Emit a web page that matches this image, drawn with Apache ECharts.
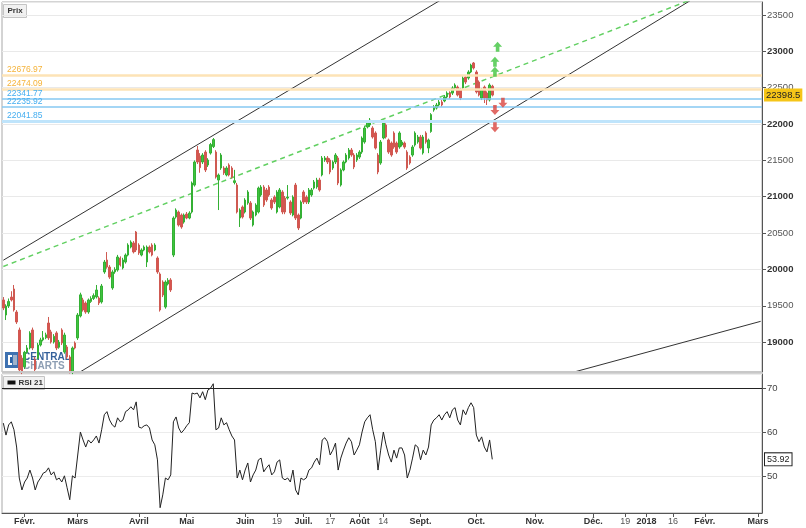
<!DOCTYPE html>
<html>
<head>
<meta charset="utf-8">
<script src="https://cdn.jsdelivr.net/npm/echarts@6/dist/echarts.min.js"></script>
<style>
html,body{margin:0;padding:0;background:#fff;}
#chart{width:806px;height:528px;}
</style>
</head>
<body>
<div id="chart"></div>
<script>
// ---------- DATA ----------
const startDate = '2017-01-20';
const endDate = '2018-03-02';
const holidays = ['2017-04-14','2017-04-17','2017-05-01','2017-12-25','2018-01-01'];

const opens = [19580,19373,19497,19620,19731,19414,19167,18780,18660,18860,
18920,19167,18760,18782,18960,19030,19060,19263,19140,19002,
19126,18930,19167,18864,18933,18795,18590,18988,19057,19360,
19580,19538,19414,19560,19600,19621,19607,19552,19965,20130,
20033,19745,19965,19992,20157,20020,20102,20198,20308,20364,
20515,20336,20198,20267,20102,20308,20336,20267,20157,19937,
19827,19483,19800,19855,20198,20721,20790,20749,20652,20762,
20707,20790,21161,21643,21560,21478,21615,21437,21601,21690,
21615,21230,21395,21395,21299,21437,21395,21196,21161,20707,
20859,20790,20914,20914,20611,20749,20790,21024,21134,21093,
21134,20955,20996,20790,20859,21065,20982,20982,20927,20749,
21161,20749,20707,21065,20996,20927,21024,21120,21134,21230,
21299,21505,21533,21505,21395,21478,21533,21161,21368,21478,
21533,21643,21574,21505,21546,21615,21753,21959,21987,21945,
21877,21574,21464,21808,21987,21781,21739,21877,21739,21684,
21712,21739,21615,21546,21574,21712,21753,21822,21602,21877,
21670,21897,22193,22220,22262,22303,22317,22372,22427,22427,
22496,22509,22468,22496,22647,22633,22716,22840,22716,22578,
22358,22509,22427,22331,22520];

const closes = [19470,19497,19560,19580,19442,19277,18617,18600,18860,18920,
19125,18919,18620,18960,19030,19060,19100,19057,19002,19080,
18919,19000,18988,19098,18795,18600,18919,18919,19373,19650,
19442,19414,19580,19600,19640,19717,19538,19772,20102,20033,
19895,19965,20000,20171,20061,20130,20198,20336,20377,20240,
20267,20226,20267,20308,20308,20240,20198,20336,19965,19442,
19648,19827,19850,19717,20707,20817,20611,20584,20749,20707,
20776,21189,21478,21478,21400,21574,21368,21505,21718,21786,
21271,21299,21574,21326,21395,21299,21271,21220,20790,20817,
20721,20955,21065,20707,20790,20886,21120,21134,20886,20955,
21024,20845,20927,21065,21093,20790,20790,20996,20776,20996,
20707,20570,20927,20927,20927,21093,21093,21203,21230,21093,
21533,21533,21478,21340,21478,21574,21189,21368,21478,21574,
21643,21574,21409,21574,21615,21808,21945,22028,22055,21822,
21670,21340,21753,22014,21822,21615,21574,21684,21615,21877,
21753,21684,21395,21464,21684,21877,21822,21670,21822,21753,
21781,22130,22234,22262,22303,22262,22372,22427,22372,22496,
22537,22399,22358,22633,22578,22716,22812,22771,22441,22399,
22468,22358,22331,22537,22398.5];

const lows = [19440,19304,19470,19560,19420,19250,18590,18560,18630,18840,
18900,18890,18590,18760,18940,19010,19040,19030,18980,18980,
18890,18910,18960,18840,18770,18570,18560,18900,19030,19340,
19420,19390,19390,19540,19580,19600,19510,19530,19940,20010,
19870,19720,19940,19970,20040,20000,20080,20180,20290,20220,
20240,20200,20180,20250,20033,20220,20180,20250,19940,19420,
19620,19460,19780,19690,20170,20700,20590,20560,20630,20690,
20690,20770,21140,21450,21330,21450,21340,21410,21580,21670,
21250,20817,21370,21300,21280,21280,21250,21170,20770,20584,
20700,20770,20890,20680,20590,20730,20770,21000,20860,20930,
21000,20820,20900,20770,20840,20760,20760,20960,20750,20730,
20680,20542,20690,20900,20900,20900,21000,21100,21110,21070,
21280,21480,21450,21310,21370,21450,21160,21140,21350,21460,
21510,21550,21380,21480,21520,21590,21730,21940,21960,21800,
21650,21310,21440,21790,21800,21590,21550,21660,21590,21660,
21690,21660,21370,21440,21550,21690,21730,21650,21580,21730,
21600,21880,22170,22200,22240,22240,22300,22350,22350,22400,
22470,22380,22330,22470,22550,22610,22700,22750,22420,22380,
22330,22289,22262,22310,22380];

const highs = [19620,19520,19600,19700,19786,19440,19200,18820,18880,18960,
19150,19200,18800,18990,19060,19153,19130,19346,19170,19110,
19150,19030,19190,19130,18960,18820,18940,19010,19400,19680,
19610,19560,19600,19630,19670,19786,19630,19800,20130,20239,
20060,19990,20030,20200,20180,20160,20220,20360,20400,20390,
20529,20360,20290,20330,20330,20330,20360,20360,20180,19960,
19850,19850,19880,19880,20730,20840,20810,20770,20770,20790,
20800,21210,21500,21698,21600,21600,21640,21530,21740,21808,
21640,21320,21600,21420,21420,21460,21420,21370,21190,20840,
20880,20980,21090,20940,20810,20910,21140,21160,21160,21120,
21160,20980,21020,21090,21120,21090,21010,21161,20950,21020,
21190,20770,20950,21090,21020,21120,21120,21230,21260,21260,
21560,21560,21560,21530,21500,21600,21560,21390,21500,21600,
21670,21670,21600,21600,21640,21830,21970,22050,22083,21970,
21900,21600,21780,22040,22010,21800,21760,21900,21760,21900,
21780,21760,21640,21570,21710,21900,21850,21850,21850,21900,
21800,22150,22260,22290,22330,22330,22400,22450,22450,22520,
22560,22530,22490,22660,22670,22740,22830,22853,22740,22600,
22490,22530,22450,22560,22540];

const rsi = [62.1,59.4,61.7,62.4,60.6,56.7,49.7,47.0,48.8,49.7,
51.5,49.7,47.0,48.8,49.7,50.8,51.1,52.0,50.4,51.1,
49.3,49.7,48.8,50.2,47.5,44.8,50.2,49.7,54.9,60.1,
58.3,56.7,58.3,57.6,58.3,59.2,57.6,60.6,64.0,64.7,
62.8,61.7,61.2,63.3,62.4,62.8,64.7,65.1,65.8,65.1,
66.9,61.2,61.0,61.5,61.7,61.0,58.3,57.2,53.8,43.0,
45.9,49.7,49.3,50.4,62.4,63.5,61.0,59.9,60.6,61.5,
62.2,68.9,68.7,68.9,67.8,69.2,67.4,69.6,70.0,71.0,
60.6,61.0,63.3,61.7,62.2,60.6,59.2,58.3,49.7,51.5,
49.3,51.5,53.1,48.8,50.4,51.5,53.8,54.2,51.1,52.0,
52.7,50.4,51.1,53.3,53.8,49.7,49.3,49.7,48.8,51.5,
47.0,45.9,49.7,49.3,49.7,51.5,52.0,53.3,54.2,52.7,
58.3,58.8,57.9,54.9,56.0,57.6,51.5,54.2,56.0,57.6,
58.8,57.9,54.9,56.0,57.2,60.1,62.4,63.3,64.0,60.6,
57.9,51.5,56.0,60.1,57.2,54.9,53.3,56.0,54.2,56.5,
56.5,54.9,49.7,51.5,54.2,57.2,56.7,53.8,56.0,54.9,
56.7,61.7,62.8,63.3,64.0,62.8,64.0,64.7,63.3,65.1,
65.6,62.8,61.7,65.1,64.0,65.6,66.7,65.6,59.4,57.9,
59.0,56.7,55.6,58.3,53.92];

// horizontal levels [value, kind]
const levelValues = [22676.97, 22474.09, 22341.77, 22235.92, 22041.85];
const levelKinds  = ['res', 'res', 'sup', 'sup', 'supStrong'];

// trend lines: [date1, price1, date2, price2]
const upperChannel = ['2017-01-20', 20127, '2017-09-20', 23824];
const lowerChannel = ['2017-02-17', 18392, '2018-02-09', 23954];
const midDashed    = ['2017-01-20', 20041, '2018-03-02', 24082];
const lowerRight   = ['2017-11-01', 18442, '2018-03-02', 19286];

// signal arrows [date, price]
const upArrows   = [['2017-10-12', 23064], ['2017-10-11', 22857], ['2017-10-11', 22720]];
const downArrows = [['2017-10-16', 22293], ['2017-10-11', 22193], ['2017-10-11', 21955]];

const rsiLevel = 70;
const priceMin = 18589, priceMax = 23679;
const rsiMin = 41.8, rsiMax = 73.2;

const tickLabels = [
  ['2017-02-01','Févr.'],['2017-03-01','Mars'],['2017-04-03','Avril'],['2017-05-02','Mai'],
  ['2017-06-01','Juin'],['2017-06-19','19'],['2017-07-03','Juil.'],['2017-07-17','17'],
  ['2017-08-01','Août'],['2017-08-14','14'],['2017-09-01','Sept.'],['2017-10-02','Oct.'],
  ['2017-11-01','Nov.'],['2017-12-01','Déc.'],['2017-12-19','19'],['2018-01-02','2018'],
  ['2018-01-16','16'],['2018-02-01','Févr.'],['2018-03-01','Mars']
];

// ---------- BUILD ----------
function buildTradingDays(start, end, hol) {
  const out = [];
  let d = new Date(start + 'T00:00:00Z');
  const e = new Date(end + 'T00:00:00Z');
  while (d <= e) {
    const wd = d.getUTCDay();
    const s = d.toISOString().slice(0, 10);
    if (wd !== 0 && wd !== 6 && hol.indexOf(s) < 0) out.push(s);
    d = new Date(d.getTime() + 86400000);
  }
  return out;
}
const categories = buildTradingDays(startDate, endDate, holidays);
const idx = d => categories.indexOf(d);
const tickMap = {};
tickLabels.forEach(t => { tickMap[t[0]] = t[1]; });

const candleData = opens.map((o, i) => [o, closes[i], lows[i], highs[i]]);
const lastClose = closes[closes.length - 1];
const lastRsi = rsi[rsi.length - 1];

const levelStyle = {
  res:       { line: '#fde3b6', width: 2.5, text: '#f5b33a' },
  sup:       { line: '#86c9f2', width: 1.5, text: '#45aef0' },
  supStrong: { line: '#bfe4fb', width: 3, text: '#45aef0' }
};

function trend(tl, color, type, width) {
  return {
    type: 'line', xAxisIndex: 0, yAxisIndex: 0, silent: true, symbol: 'none',
    clip: true, z: 3,
    data: [[idx(tl[0]), tl[1]], [idx(tl[2]), tl[3]]],
    lineStyle: { color: color, width: width, type: type }
  };
}

const FONT = '"Liberation Sans", Arial, sans-serif';
const upPath = 'path://M5,0 L10,5 L7,5 L7,10 L3,10 L3,5 L0,5 Z';
const downPath = 'path://M3,0 L7,0 L7,5 L10,5 L5,10 L0,5 L3,5 Z';

const chart = echarts.init(document.getElementById('chart'), null, { renderer: 'canvas' });

const option = {
  animation: false,
  backgroundColor: '#fff',
  textStyle: { fontFamily: FONT },
  grid: [
    { left: 2, right: 44, top: 2, height: 370, show: true, borderColor: '#a8a8a8', borderWidth: 1 },
    { left: 2, right: 44, top: 374, height: 139, show: true, borderColor: '#a8a8a8', borderWidth: 1 }
  ],
  xAxis: [
    { type: 'category', gridIndex: 0, data: categories, boundaryGap: true,
      axisLine: { show: false }, axisTick: { show: false }, axisLabel: { show: false }, splitLine: { show: false } },
    { type: 'category', gridIndex: 1, data: categories, boundaryGap: true,
      axisLine: { show: true, lineStyle: { color: '#555' } },
      axisTick: { show: true, alignWithLabel: true, length: 4, lineStyle: { color: '#555' },
        interval: (i, v) => tickMap[v] !== undefined },
      axisLabel: { show: true, margin: 4,
        interval: (i, v) => tickMap[v] !== undefined,
        formatter: v => { const t = tickMap[v] || ''; return /^\d{1,2}$/.test(t) ? '{n|' + t + '}' : '{b|' + t + '}'; },
        rich: { b: { fontWeight: 'bold', fontSize: 9, color: '#333', fontFamily: FONT },
                n: { fontSize: 9, color: '#555', fontFamily: FONT } } },
      splitLine: { show: false } }
  ],
  yAxis: [
    { type: 'value', gridIndex: 0, position: 'right', min: priceMin, max: priceMax, splitNumber: 10, scale: true,
      axisLine: { show: true, lineStyle: { color: '#555' } },
      axisTick: { show: true, length: 4, lineStyle: { color: '#555' } },
      axisLabel: { margin: 5, showMinLabel: false, showMaxLabel: false,
        formatter: v => (v % 1000 === 0 ? '{b|' + v + '}' : '{n|' + v + '}'),
        rich: { b: { fontWeight: 'bold', fontSize: 9.5, color: '#333', fontFamily: FONT },
                n: { fontSize: 9.5, color: '#555', fontFamily: FONT } } },
      splitLine: { show: true, lineStyle: { color: '#e9e9e9' } } },
    { type: 'value', gridIndex: 1, position: 'right', min: rsiMin, max: rsiMax, splitNumber: 3, scale: true,
      axisLine: { show: true, lineStyle: { color: '#555' } },
      axisTick: { show: true, length: 4, lineStyle: { color: '#555' } },
      axisLabel: { margin: 5, showMinLabel: false, showMaxLabel: false, fontSize: 9.5, color: '#444' },
      splitLine: { show: true, lineStyle: { color: '#ececec' } } }
  ],
  series: [
    trend(midDashed, '#62d062', [5, 4], 1.5),
    trend(upperChannel, '#333', 'solid', 1),
    trend(lowerChannel, '#333', 'solid', 1),
    trend(lowerRight, '#333', 'solid', 1),
    {
      type: 'candlestick', name: 'Prix', xAxisIndex: 0, yAxisIndex: 0, z: 4,
      data: candleData, barWidth: '75%',
      itemStyle: { color: '#3ec43e', color0: '#d9534f', borderColor: '#34b034', borderColor0: '#cf5a52', borderWidth: 1 },
      markLine: {
        silent: true, symbol: 'none', animation: false,
        data: levelValues.map((v, i) => {
          const s = levelStyle[levelKinds[i]];
          return { yAxis: v,
            lineStyle: { color: s.line, width: s.width, type: 'solid' },
            label: { show: true, position: 'insideStartTop', distance: [5, 1], formatter: String(v),
              color: s.text, fontSize: 8.5, fontFamily: FONT } };
        }).concat([{
          yAxis: lastClose,
          lineStyle: { color: 'rgba(0,0,0,0)', width: 0 },
          label: { show: true, position: 'end', distance: 2, formatter: String(lastClose),
            backgroundColor: '#f5c518', color: '#222', padding: [2, 2, 1, 2], fontSize: 9.5, fontFamily: FONT }
        }])
      }
    },
    {
      type: 'scatter', xAxisIndex: 0, yAxisIndex: 0, z: 6, silent: true,
      symbol: upPath, symbolSize: [9, 10],
      itemStyle: { color: '#3ec43e' },
      data: upArrows.map(a => [idx(a[0]), a[1]])
    },
    {
      type: 'scatter', xAxisIndex: 0, yAxisIndex: 0, z: 6, silent: true,
      symbol: downPath, symbolSize: [9, 10],
      itemStyle: { color: '#d9453e' },
      data: downArrows.map(a => [idx(a[0]), a[1]])
    },
    {
      type: 'line', name: 'RSI 21', xAxisIndex: 1, yAxisIndex: 1, data: rsi,
      symbol: 'none', lineStyle: { color: '#222', width: 1 }, z: 4,
      markLine: {
        silent: true, symbol: 'none', animation: false,
        data: [
          { yAxis: rsiLevel, lineStyle: { color: '#222', width: 1, type: 'solid' }, label: { show: false } },
          { yAxis: lastRsi, lineStyle: { color: 'rgba(0,0,0,0)', width: 0 },
            label: { show: true, position: 'end', distance: 3, formatter: String(lastRsi),
              backgroundColor: '#fff', borderColor: '#222', borderWidth: 1, color: '#222',
              padding: [2, 2, 1, 2], fontSize: 9, fontFamily: FONT } }
        ]
      }
    }
  ],
  graphic: [
    { type: 'rect', z: 19, shape: { x: 2, y: 371, width: 760, height: 2 }, style: { fill: '#c8c8c8' } },
    { type: 'group', left: 3, top: 4, z: 20, children: [
      { type: 'rect', shape: { x: 0, y: 0, width: 23, height: 13 }, style: { fill: '#f1f1f1', stroke: '#c4c4c4', lineWidth: 1 } },
      { type: 'text', style: { text: 'Prix', x: 4, y: 2.5, fill: '#333', font: 'bold 8px ' + FONT } }
    ]},
    { type: 'group', left: 3, top: 376, z: 20, children: [
      { type: 'rect', shape: { x: 0, y: 0, width: 41, height: 13 }, style: { fill: '#f1f1f1', stroke: '#c4c4c4', lineWidth: 1 } },
      { type: 'rect', shape: { x: 4, y: 4, width: 8, height: 4 }, style: { fill: '#111' } },
      { type: 'text', style: { text: 'RSI 21', x: 15, y: 2.5, fill: '#333', font: 'bold 8px ' + FONT } }
    ]},
    { type: 'group', left: 5, top: 352, z: 20, children: [
      { type: 'rect', shape: { x: 0, y: 0, width: 15, height: 16 }, style: { fill: '#2a63a8', opacity: 0.9 } },
      { type: 'rect', shape: { x: 3, y: 3, width: 4, height: 10 }, style: { fill: '#fff' } },
      { type: 'rect', shape: { x: 5, y: 5, width: 2, height: 6 }, style: { fill: '#2a63a8' } },
      { type: 'rect', shape: { x: 8, y: 3, width: 4, height: 10 }, style: { fill: '#9fb3cc' } },
      { type: 'text', style: { text: 'CENTRAL', x: 18, y: 0, fill: '#1e4f8f', font: 'bold 10px ' + FONT, opacity: 0.9 } },
      { type: 'text', style: { text: 'CHARTS', x: 18, y: 9, fill: '#8193ab', font: 'bold 10px ' + FONT, opacity: 0.9 } }
    ]}
  ]
};
chart.setOption(option);
</script>
</body>
</html>
